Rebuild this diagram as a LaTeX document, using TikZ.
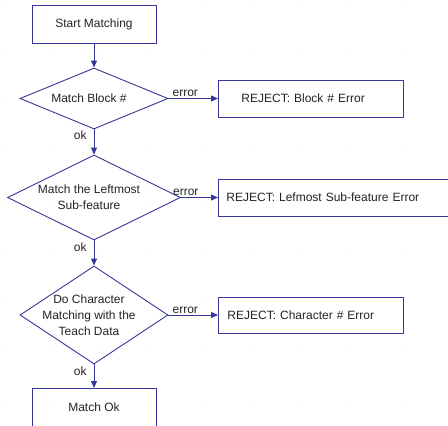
\documentclass[tikz,border=0pt]{standalone}
\usepackage{fontspec}
\setmainfont{Liberation Sans}
\usetikzlibrary{shapes.geometric,arrows.meta}
\definecolor{flowline}{RGB}{55,55,155}
\definecolor{flowtext}{RGB}{35,35,35}
\definecolor{pagewhite}{RGB}{254,254,254}
\begin{document}
\begin{tikzpicture}[x=1pt,y=1pt, color=flowline,
  every node/.style={font=\fontsize{12}{16}\selectfont, text=flowtext},
  procbox/.style={draw=flowline, line width=0.9pt, rectangle, inner sep=0pt,
    minimum width=124pt, minimum height=38pt},
  decision/.style={draw=flowline, line width=0.9pt, diamond, inner sep=0pt},
  dtext/.style={align=center, xshift=-5pt, inner sep=0pt},
  rejbox/.style={draw=flowline, line width=0.9pt, rectangle, anchor=west,
    inner ysep=0pt, minimum height=37pt, align=left},
  flow/.style={draw=flowline, fill=flowline, line width=0.9pt,
    -{Triangle[length=7pt,width=6pt]}},
  errlabel/.style={above=1pt, inner sep=0pt},
  oklabel/.style={left=7pt, inner sep=0pt}]
\useasboundingbox (0,0) rectangle (448,-426);
% page backdrop
\draw[pagewhite, step=50] (0,0) grid (448,-426);

% main column
\node[procbox] (start) at (94,-24) {Start Matching};
\node[decision, minimum width=148pt, minimum height=61pt,
  label={[dtext]center:Match Block \#}] (d1) at (94,-98.5) {};
\node[decision, minimum width=173pt, minimum height=85pt,
  label={[dtext]center:Match the Leftmost\\Sub-feature}] (d2) at (94,-197.5) {};
\node[decision, minimum width=148pt, minimum height=98pt,
  label={[dtext]center:Do Character\\Matching with the\\Teach Data}] (d3) at (94,-315) {};
\node[procbox, anchor=north] (done) at (94,-388) {Match Ok};

% reject boxes
\node[rejbox, inner xsep=23pt, text width=139pt] (r1) at (218,-98.5) {REJECT: Block \# Error};
\node[rejbox, inner xsep=8pt, text width=224pt] (r2) at (218,-197.5) {REJECT: Lefmost Sub-feature Error};
\node[rejbox, inner xsep=9pt, text width=167pt, minimum height=36pt] (r3) at (218,-315) {REJECT: Character \# Error};

% connectors
\draw[flow] (start) -- (d1);
\draw[flow] (d1.south) -- node[oklabel, pos=0.23] {ok} (d2.north);
\draw[flow] (d2.south) -- node[oklabel, pos=0.27] {ok} (d3.north);
\draw[flow] (d3.south) -- node[oklabel, pos=0.29] {ok} (done.north);
\draw[flow] (d1.east) -- node[errlabel, pos=0.34] {error} (r1.west);
\draw[flow] (d2.east) -- node[errlabel, pos=0.13] {error} (r2.west);
\draw[flow] (d3.east) -- node[errlabel, pos=0.34] {error} (r3.west);
\end{tikzpicture}
\end{document}
